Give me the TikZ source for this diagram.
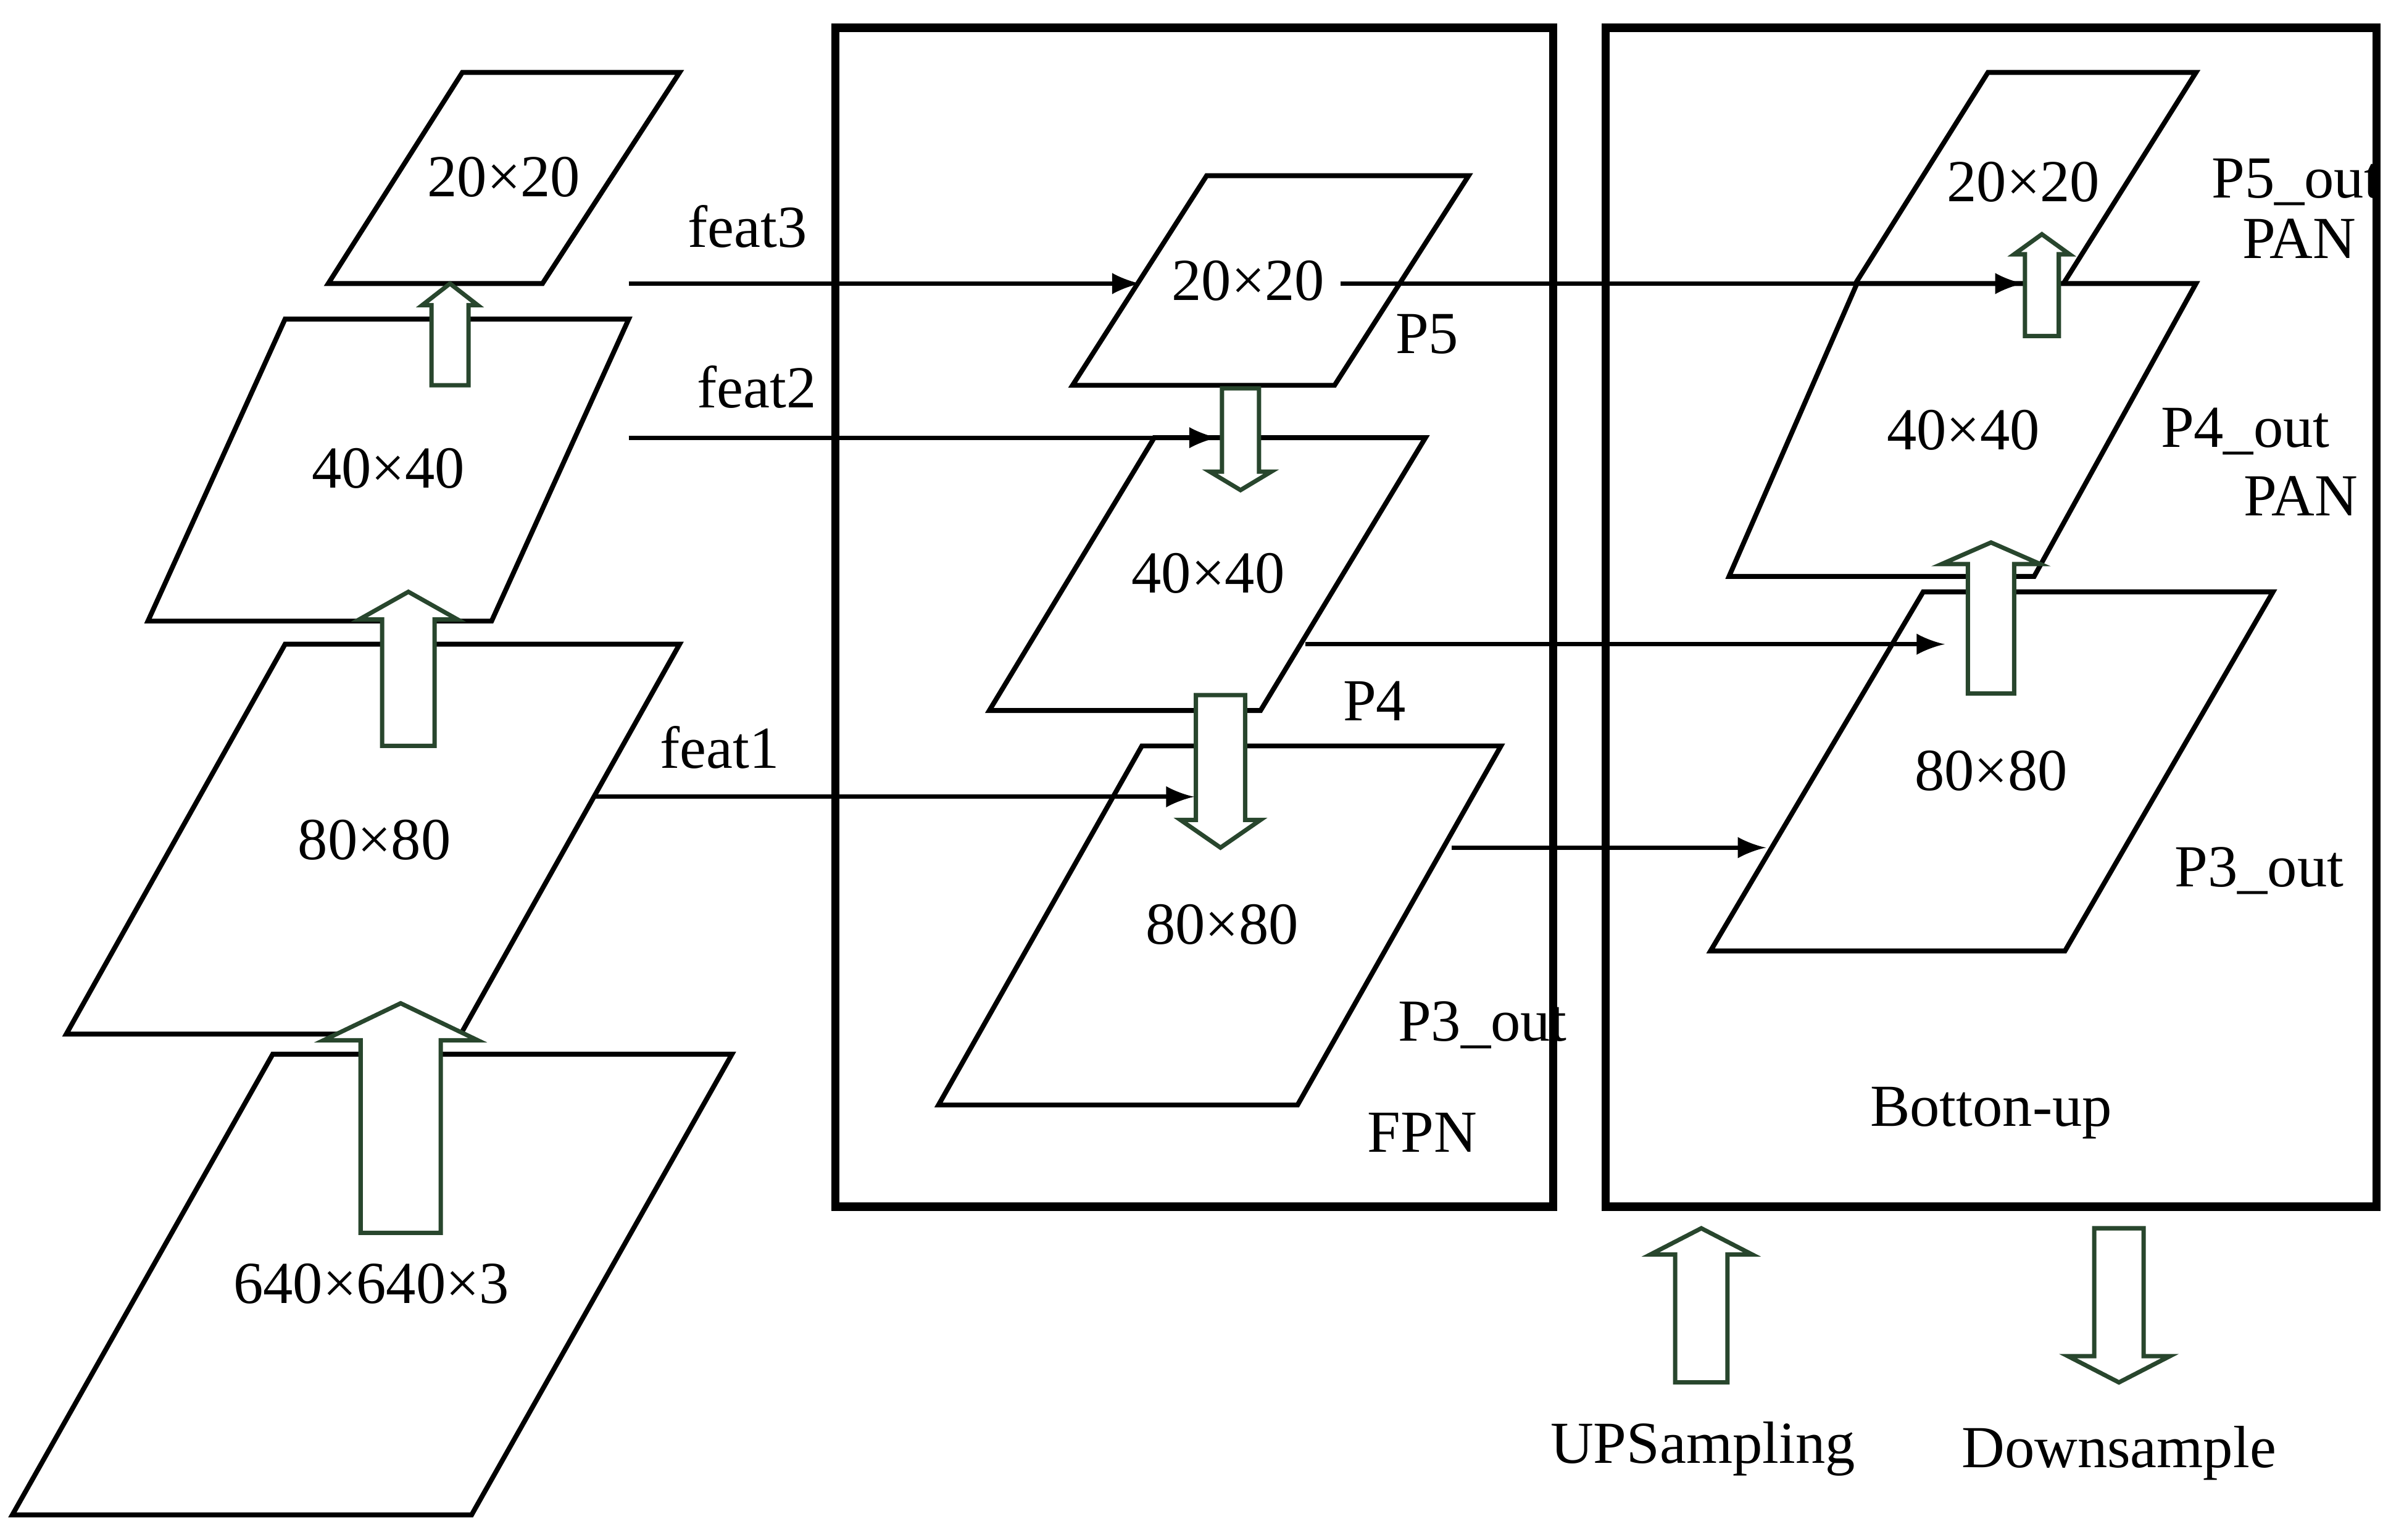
\documentclass[tikz,border=0pt]{standalone}
\usepackage{fontspec}
\setmainfont{Liberation Serif}
\definecolor{arrgreen}{RGB}{40,70,45}
\tikzset{
  layer/.style={draw,line width=0.9pt},
  lbl/.style={font=\fontsize{11}{13}\selectfont,inner sep=1pt},
  feat/.style={-latex,line width=0.8pt},
  box/.style={draw,line width=1.5pt},
  hol/.style={draw=arrgreen,fill=white,line width=0.8pt},
}
% \para{name}{top-left x}{top-right x}{top y}{bottom-left x}{bottom-right x}{bottom y}{label pos}{text}
\newcommand\para[9]{
  \draw[layer] (#2,#4) -- (#3,#4) -- (#6,#7) -- (#5,#7) -- cycle;
  \node[lbl] (#1) at (#8) {#9};
}
% \hollow{x}{tail y}{head base y}{tip y}{half shaft}{half head}
\newcommand\hollow[6]{
  \draw[hol] ({#1-#5},#2) -- ({#1-#5},#3) -- ({#1-#6},#3) -- (#1,#4)
    -- ({#1+#6},#3) -- ({#1+#5},#3) -- ({#1+#5},#2) -- cycle;
}
\begin{document}
\begin{tikzpicture}[x=0.01cm,y=-0.01cm]
	\useasboundingbox (0,0) rectangle (1560,999);

	% backbone
	\para{b20}{300}{441}{47}{213}{352}{184}{327,115}{20×20}
	\para{b40}{185}{408}{207}{96}{319}{403}{252,304}{40×40}
	\para{b80}{185}{441}{418}{43}{299}{671}{243,545}{80×80}
	\para{bin}{177}{475}{684}{8}{306}{983}{241,833}{640×640×3}
	\hollow{292}{250}{198}{184}{12}{18}
	\hollow{265}{484}{402}{384}{17}{32}
	\hollow{260}{800}{675}{651}{26}{50}

	% FPN
	\draw[box] (542,18) rectangle (1008,783);
	\para{f20}{783}{953}{114}{696}{866}{250}{810,182}{20×20}
	\para{f40}{749}{925}{284}{642}{818}{461}{784,372}{40×40}
	\para{f80}{741}{974}{484}{609}{842}{717}{793,600}{80×80}
	\hollow{805}{252}{306}{318}{12}{20}
	\hollow{792}{451}{532}{550}{16}{26}
	\node[lbl] (p5) at (926,217) {P5};
	\node[lbl] (p4) at (892,455) {P4};
	\node[lbl] (p3) at (962,665) {P3\_out};
	\node[lbl] (fpn) at (923,735) {FPN};

	% bottom-up
	\draw[box] (1042,18) rectangle (1542,783);
	\draw[layer] (1204,184) -- (1290,47) -- (1425,47) -- (1339,184);
	\node[lbl] (u20) at (1313,118) {20×20};
	\para{u40}{1205}{1425}{184}{1122}{1320}{374}{1274,279}{40×40}
	\para{u80}{1248}{1475}{384}{1110}{1340}{617}{1292,500}{80×80}
	\node[lbl] (p5o) at (1490,118) {P5\_out};
	\node[lbl] (pan5) at (1492,155) {PAN};
	\node[lbl] (p4o) at (1457,280) {P4\_out};
	\node[lbl] (pan4) at (1493,322) {PAN};
	\node[lbl] (p3o) at (1466,565) {P3\_out};
	\node[lbl] (bu) at (1292,722) {Botton-up};

	% connectors
	\coordinate (s3) at (408,184);  \coordinate (t3) at (740,184);
	\coordinate (s2) at (408,284);  \coordinate (t2) at (790,284);
	\coordinate (s1) at (386,517);  \coordinate (t1) at (775,517);
	\coordinate (s5) at (870,184);  \coordinate (t5) at (1313,184);
	\coordinate (s4) at (847,418);  \coordinate (t4) at (1262,418);
	\coordinate (s0) at (942,550);  \coordinate (t0) at (1146,550);
	\draw[feat] (s3) -- (t3);
	\draw[feat] (s2) -- (t2);
	\draw[feat] (s1) -- (t1);
	\draw[feat] (s5) -- (t5);
	\draw[feat] (s4) -- (t4);
	\draw[feat] (s0) -- (t0);
	\node[lbl] (f3) at (485,147) {feat3};
	\node[lbl] (f2) at (491,251) {feat2};
	\node[lbl] (f1) at (467,485) {feat1};
	\hollow{1325}{218}{165}{152}{11}{18}
	\hollow{1292}{450}{366}{352}{15}{32}

	% legend
	\hollow{1104}{897}{814}{797}{17}{33}
	\hollow{1375}{797}{880}{897}{16}{33}
	\node[lbl] (ups) at (1105,940) {UPSampling};
	\node[lbl] (dns) at (1375,943) {Downsample};
\end{tikzpicture}
\end{document}
